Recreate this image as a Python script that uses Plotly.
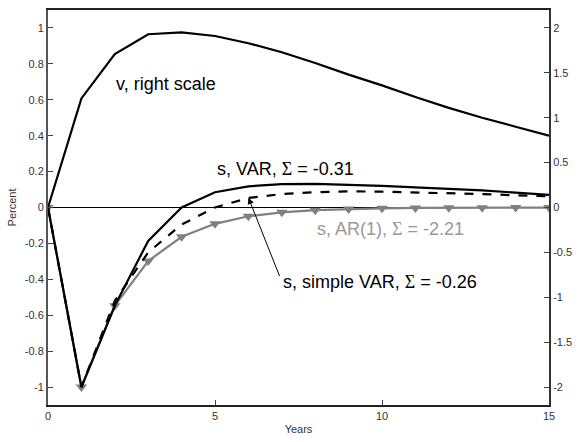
import plotly.graph_objects as go

years = list(range(16))
v_right = [0.0, 1.215, 1.71, 1.93, 1.95, 1.91, 1.83, 1.73, 1.61, 1.48, 1.36, 1.23, 1.11, 1.00, 0.90, 0.80]
s_var = [0.0, -1.0, -0.547, -0.186, 0.0, 0.085, 0.118, 0.13, 0.132, 0.128, 0.12, 0.112, 0.105, 0.095, 0.083, 0.07]
s_simple = [0.0, -1.0, -0.52, -0.25, -0.095, 0.0, 0.053, 0.075, 0.085, 0.09, 0.088, 0.085, 0.08, 0.075, 0.068, 0.062]
s_ar1 = [0.0, -1.0, -0.547, -0.298, -0.163, -0.091, -0.049, -0.027, -0.015, -0.008, -0.0045, -0.0025, -0.0014, -0.0008, -0.0004, -0.0002]

left_ticks = [-1, -0.8, -0.6, -0.4, -0.2, 0, 0.2, 0.4, 0.6, 0.8, 1]
left_labels = ["-1", "-0.8", "-0.6", "-0.4", "-0.2", "0", "0.2", "0.4", "0.6", "0.8", "1"]
right_ticks = [-2, -1.5, -1, -0.5, 0, 0.5, 1, 1.5, 2]
right_labels = ["-2", "-1.5", "-1", "-0.5", "0", "0.5", "1", "1.5", "2"]
x_ticks = [0, 5, 10, 15]

GRAY = "#808080"
AX = "#444444"
SIG = '<span style="font-family:Liberation Serif;font-weight:normal">Σ</span>'

fig = go.Figure()
fig.add_trace(go.Scatter(x=years, y=v_right, yaxis="y2", mode="lines",
                         line=dict(color="black", width=2.2)))
fig.add_trace(go.Scatter(x=years, y=s_ar1, mode="lines+markers",
                         line=dict(color=GRAY, width=2.2),
                         marker=dict(symbol="triangle-down", size=10, color=GRAY)))
fig.add_trace(go.Scatter(x=years, y=s_simple, mode="lines",
                         line=dict(color="black", width=2.2, dash="dash")))
fig.add_trace(go.Scatter(x=years, y=s_var, mode="lines",
                         line=dict(color="black", width=2.2)))

tfont = dict(family="Liberation Sans, Arial, sans-serif", size=18, color="black")
fig.add_annotation(x=1.99, y=0.69, xref="x", yref="y", text="v, right scale",
                   showarrow=False, xanchor="left", yanchor="middle", font=tfont)
fig.add_annotation(x=5.01, y=0.215, xref="x", yref="y", text="s, VAR, " + SIG + " = -0.31",
                   showarrow=False, xanchor="left", yanchor="middle", font=tfont)
fig.add_annotation(x=7.98, y=-0.12, xref="x", yref="y", text="s, AR(1), " + SIG + " = -2.21",
                   showarrow=False, xanchor="left", yanchor="middle",
                   font=dict(family="Liberation Sans, Arial, sans-serif", size=18, color="#999999"))
fig.add_annotation(x=6.97, y=-0.414, xref="x", yref="y", text="s, simple VAR, " + SIG + " = -0.26",
                   showarrow=False, xanchor="left", yanchor="middle", font=tfont)
fig.add_annotation(x=6.0, y=0.055, xref="x", yref="y", ax=6.95, ay=-0.39, axref="x", ayref="y",
                   text="", showarrow=True, arrowhead=2, arrowsize=1.3, arrowwidth=1,
                   arrowcolor="black", standoff=0)

fig.update_layout(
    width=580, height=442,
    margin=dict(l=48, r=27, t=8, b=35),
    paper_bgcolor="white", plot_bgcolor="white",
    showlegend=False,
    font=dict(family="Liberation Sans, Arial, sans-serif", size=11, color="#333333"),
    xaxis=dict(range=[0, 15], tickvals=x_ticks, ticks="inside", ticklen=5, tickcolor=AX,
               showgrid=False, zeroline=False, showline=True, linecolor="#222222", linewidth=2,
               mirror=True,
               title=dict(text="Years", standoff=4, font=dict(size=11))),
    yaxis=dict(range=[-1.1, 1.1], tickvals=left_ticks, ticktext=left_labels, ticks="inside",
               ticklen=5, tickcolor=AX, showgrid=False, zeroline=True, zerolinecolor="black",
               zerolinewidth=1, showline=True, linecolor="#555555", linewidth=2, mirror=True,
               title=dict(text="Percent", standoff=6, font=dict(size=11))),
    yaxis2=dict(range=[-2.2, 2.2], tickvals=right_ticks, ticktext=right_labels, overlaying="y",
                side="right", ticks="inside", ticklen=5, tickcolor=AX, showgrid=False,
                zeroline=False, showline=True, linecolor="#333333", linewidth=2),
)

fig.write_html("out.html")
